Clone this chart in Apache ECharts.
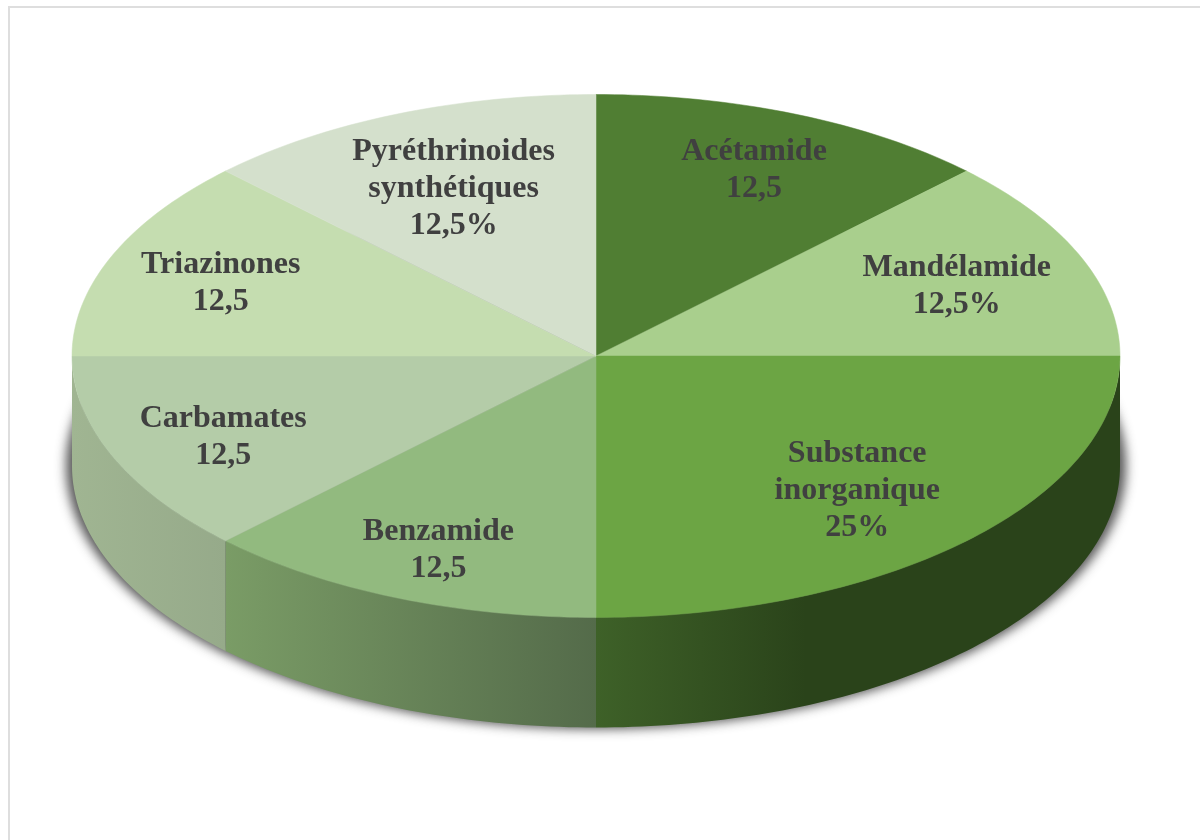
<!DOCTYPE html>
<html>
<head>
<meta charset="utf-8">
<style>html,body{margin:0;padding:0;background:#fff}#c{width:1200px;height:840px}</style>
<script src="https://cdn.jsdelivr.net/npm/echarts@6/dist/echarts.min.js"></script>
</head>
<body>
<div id="c"></div>
<script>
// Data
const categories = ['Acétamide','Mandélamide','Substance\ninorganique','Benzamide','Carbamates','Triazinones','Pyréthrinoides\nsynthétiques'];
const values = [12.5,12.5,25,12.5,12.5,12.5,12.5];
const valueLabels = ['12,5','12,5%','25%','12,5','12,5','12,5','12,5%'];

// Styling
const topColors = ['#507E33','#A9CF8D','#6CA544','#92BA7F','#B4CCA8','#C5DDB0','#D4E0CC'];
const wallStops = [
  null, null,
  [[0,'#3E6128'],[0.4,'#2A431A'],[1,'#2A431A']],
  [[0,'#7A9C66'],[1,'#546B4A']],
  [[0,'#A0B592'],[1,'#96AA8A']],
  null, null
];
const labelRadius = [0.788,0.745,0.705,0.786,0.77,0.775,0.71];
const labelDy = 4.5;
const cx = 596, cy = 356, rx = 524, ry = 261.5, depth = 110;

const total = values.reduce((a,b)=>a+b,0);
function startAngle(i){ let s=0; for(let k=0;k<i;k++) s+=values[k]; return s/total*Math.PI*2; }
function pt(a, yOff){ return [cx+rx*Math.sin(a), cy-ry*Math.cos(a)+(yOff||0)]; }
function arc(a0,a1,yOff){
  const n=Math.max(2,Math.ceil((a1-a0)/(Math.PI/180))), p=[];
  for(let i=0;i<=n;i++) p.push(pt(a0+(a1-a0)*i/n,yOff));
  return p;
}

function renderSlice(params, api){
  const i = api.value(0), a0 = startAngle(i), a1 = a0+api.value(1)/total*Math.PI*2;
  const children = [];
  const w0 = Math.max(a0,Math.PI/2), w1 = Math.min(a1,Math.PI*1.5);
  if (w1>w0 && wallStops[i]) {
    const pts = arc(w0,w1,0).concat(arc(w0,w1,depth).reverse());
    children.push({type:'polygon',shape:{points:pts},style:{
      fill:{type:'linear',x:0,y:0,x2:1,y2:0,colorStops:wallStops[i].map(s=>({offset:s[0],color:s[1]}))},
      stroke:null}});
  }
  children.push({type:'polygon',shape:{points:[[cx,cy]].concat(arc(a0,a1,0))},
    style:{fill:topColors[i],stroke:topColors[i],lineWidth:0.5}});
  const mid=(a0+a1)/2, r=labelRadius[i];
  children.push({type:'text',z2:10,style:{
    text:categories[i]+'\n'+valueLabels[i],
    x:cx+rx*r*Math.sin(mid), y:cy-ry*r*Math.cos(mid)+labelDy,
    align:'center',verticalAlign:'middle',
    fontFamily:'"Liberation Serif",serif',fontWeight:'bold',fontSize:32,lineHeight:37,fill:'#404040'}});
  return {type:'group',children};
}
function renderShadow(){
  const off = 3000, p=[];
  for(let i=0;i<360;i++){const a=i*Math.PI/180;p.push([cx-off+(rx+6)*Math.sin(a),cy+depth-(ry+1.5)*Math.cos(a)]);}
  return {type:'polygon',shape:{points:p},
    style:{fill:'#000',shadowBlur:11,shadowOffsetX:off,shadowColor:'rgba(40,40,40,0.78)'}};
}

const chart = echarts.init(document.getElementById('c'),null,{renderer:'canvas',width:1200,height:840});
chart.setOption({
  animation:false,
  backgroundColor:'#fff',
  graphic:[{type:'rect',silent:true,z:0,shape:{x:9,y:7,width:1400,height:1000},style:{fill:'#fff',stroke:'#DEDEDE',lineWidth:2}}],
  series:[
    {type:'custom',coordinateSystem:'none',silent:true,z:1,renderItem:renderShadow,data:[[0]]},
    {type:'custom',coordinateSystem:'none',silent:true,z:2,renderItem:renderSlice,
      data:values.map((v,i)=>[i,v])}
  ]
});
</script>
</body>
</html>
